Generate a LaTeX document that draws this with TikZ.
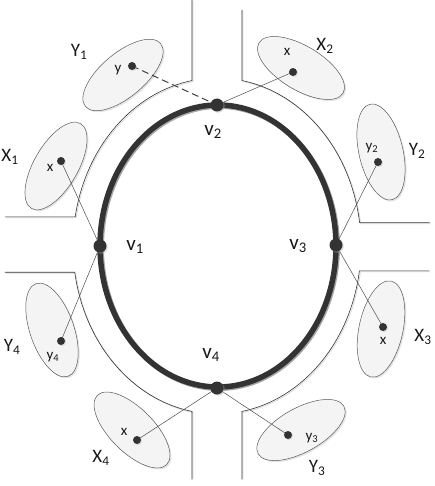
\documentclass[tikz,border=0pt]{standalone}
\usepackage{fontspec}
\setmainfont{Carlito}
\usepackage{tikz}
\usetikzlibrary{shapes.geometric, calc, shadows}
\tikzset{
  setblob/.style={
    ellipse, draw=black!65, line width=0.5pt, fill=gray!9,
    minimum width=98pt, minimum height=44pt, inner sep=0pt,
    drop shadow={shadow xshift=1.5pt, shadow yshift=-1.5pt, fill=black!30, opacity=0.35}
  },
  vertexdot/.style={circle, fill=black!80, minimum size=13pt, inner sep=0pt,
    drop shadow={shadow xshift=1.2pt, shadow yshift=-1.2pt, fill=black!30, opacity=0.45}},
  elemdot/.style={circle, fill=black!80, minimum size=8pt, inner sep=0pt,
    drop shadow={shadow xshift=1pt, shadow yshift=-1pt, fill=black!30, opacity=0.4}},
  setlabel/.style={font=\fontsize{19}{22}\selectfont, text=black!90},
  vertlabel/.style={font=\fontsize{21}{25}\selectfont, text=black!90},
  elemlabel/.style={font=\fontsize{15}{17}\selectfont, text=black!90},
  link/.style={draw=black!70, line width=0.5pt},
  road/.style={draw=black!80, line width=0.6pt,
    preaction={draw=black!15, line width=0.8pt, transform canvas={shift={(1pt,-1pt)}}}},
  ringline/.style={draw=black!80, line width=5.5pt,
    preaction={draw=black!35, line width=5.5pt, transform canvas={shift={(1.2pt,-1.2pt)}}}},
}

\begin{document}
\begin{tikzpicture}[x=1pt, y=-1pt]
  \useasboundingbox (0,0) rectangle (435,486);
  \coordinate (c) at (217,246);

  % Road corners
  \coordinate (tl) at ($(c)+(260:144 and 168)$);
  \coordinate (tr) at ($(c)+(280:144 and 168)$);
  \coordinate (br) at ($(c)+(8.5:144 and 168)$);
  \coordinate (bl) at ($(c)+(100:144 and 168)$);
  \draw[road] (tl |- 0,0) -- (tl) arc[start angle=260, end angle=190, x radius=144, y radius=168] -- ++(-70,0);
  \draw[road] (tr |- 0,10) -- (tr) arc[start angle=280, end angle=352, x radius=144, y radius=168] -- ++(70,0);
  \draw[road] ($(br)+(70,0)$) -- (br) arc[start angle=8.5, end angle=80, x radius=144, y radius=168] -- ++(0,68);
  \draw[road] ($(bl)+(0,68)$) -- (bl) arc[start angle=100, end angle=171, x radius=144, y radius=168] -- ++(-70,0);

  % Cycle
  \draw[ringline] (218,246) ellipse [x radius=118, y radius=141];
  \coordinate (v1) at (100,246);
  \coordinate (v2) at (217,105);
  \coordinate (v3) at (336,245);
  \coordinate (v4) at (217,388);

  % Sets
  \node[setblob, rotate=40]  (Y1) at (123,75) {};
  \node[setblob, rotate=60]  (X1) at (56,166) {};
  \node[setblob, rotate=-31] (X2) at (301,68) {};
  \node[setblob, rotate=-77] (Y2) at (381,152) {};
  \node[setblob, rotate=78]  (X3) at (381,329) {};
  \node[setblob, rotate=29]  (Y3) at (301,430) {};
  \node[setblob, rotate=-71] (Y4) at (52,330) {};
  \node[setblob, rotate=-45] (X4) at (132,430) {};

  % Elements
  \coordinate (y1p) at (132,66);
  \coordinate (x1p) at (61,161);
  \coordinate (x2p) at (293,72);
  \coordinate (y2p) at (378,162);
  \coordinate (x3p) at (383,327);
  \coordinate (y3p) at (288,435);
  \coordinate (y4p) at (61,341);
  \coordinate (x4p) at (137,440);

  % Links
  \draw[link, draw=black!75, line width=1pt, dash pattern=on 7pt off 4pt] (y1p) -- (v2);
  \draw[link] (x1p) -- (v1);
  \draw[link] (y4p) -- (v1);
  \draw[link] (x2p) -- (v2);
  \draw[link] (y2p) -- (v3);
  \draw[link] (x3p) -- (v3);
  \draw[link] (y3p) -- (v4);
  \draw[link] (x4p) -- (v4);

  % Dots
  \node[vertexdot] (v1dot) at (v1) {};
  \node[vertexdot] (v2dot) at (v2) {};
  \node[vertexdot] (v3dot) at (v3) {};
  \node[vertexdot] (v4dot) at (v4) {};
  \node[elemdot] (y1dot) at (y1p) {};
  \node[elemdot] (x1dot) at (x1p) {};
  \node[elemdot] (x2dot) at (x2p) {};
  \node[elemdot] (y2dot) at (y2p) {};
  \node[elemdot] (x3dot) at (x3p) {};
  \node[elemdot] (y3dot) at (y3p) {};
  \node[elemdot] (y4dot) at (y4p) {};
  \node[elemdot] (x4dot) at (x4p) {};

  % Labels
  \node[vertlabel] (v1lbl) at (135,247) {v\textsubscript{1}};
  \node[vertlabel] (v2lbl) at (213,132) {v\textsubscript{2}};
  \node[vertlabel] (v3lbl) at (298,246) {v\textsubscript{3}};
  \node[vertlabel] (v4lbl) at (211,355) {v\textsubscript{4}};

  \node[setlabel] (Y1lbl) at (79,52) {Y\textsubscript{1}};
  \node[setlabel] (X1lbl) at (10,157) {X\textsubscript{1}};
  \node[setlabel] (X2lbl) at (325,46) {X\textsubscript{2}};
  \node[setlabel] (Y2lbl) at (417,151) {Y\textsubscript{2}};
  \node[setlabel] (X3lbl) at (423,337) {X\textsubscript{3}};
  \node[setlabel] (Y3lbl) at (317,468) {Y\textsubscript{3}};
  \node[setlabel] (Y4lbl) at (12,347) {Y\textsubscript{4}};
  \node[setlabel] (X4lbl) at (101,458) {X\textsubscript{4}};

  \node[elemlabel] (y1lbl) at (118,70) {y};
  \node[elemlabel] (x1lbl) at (50,168) {x};
  \node[elemlabel] (x2lbl) at (287,52) {x};
  \node[elemlabel] (y2lbl) at (372,148) {y\textsubscript{2}};
  \node[elemlabel] (x3lbl) at (383,341) {x};
  \node[elemlabel] (y3lbl) at (312,438) {y\textsubscript{3}};
  \node[elemlabel] (y4lbl) at (53,357) {y\textsubscript{4}};
  \node[elemlabel] (x4lbl) at (124,432) {x};
\end{tikzpicture}
\end{document}
